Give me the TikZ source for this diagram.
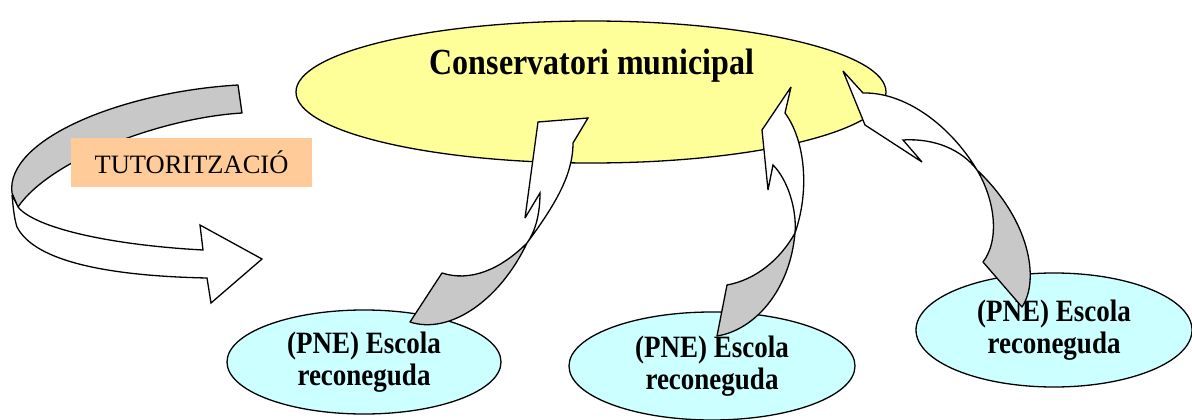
\documentclass[tikz,border=0pt]{standalone}
\usepackage{fontspec}
\setmainfont{Liberation Serif}
\usetikzlibrary{shapes.geometric}
\definecolor{topyellow}{HTML}{FFFF99}
\definecolor{schoolcyan}{HTML}{CCFFFF}
\definecolor{bandgray}{HTML}{C8C8C8}
\definecolor{peach}{HTML}{FFCC99}
\newcommand{\tallbox}[1]{\scalebox{1}[1.15]{#1}}
\tikzset{
  conserv/.style={ellipse, draw, line width=1.3pt, fill=topyellow, inner sep=0pt},
  school/.style={ellipse, draw, line width=1.3pt, fill=schoolcyan, inner sep=0pt, align=center,
    font=\bfseries\fontsize{27}{32}\selectfont},
  bandback/.style={draw, line width=1.3pt, fill=bandgray, line join=round},
  bandfront/.style={draw, line width=1.3pt, fill=white, line join=miter, miter limit=4},
  tutorbox/.style={fill=peach, inner sep=0pt, font=\fontsize{26.5}{30}\selectfont}
}
\begin{document}
\begin{tikzpicture}[x=1pt,y=-1pt]
\useasboundingbox (0,0) rectangle (1192,420);

% ellipses
\node[conserv, minimum width=590pt, minimum height=142pt] (conservatori) at (591,92) {};
\node[font=\bfseries\fontsize{32}{38}\selectfont] (conservtext) at (592,66) {\tallbox{Conservatori municipal}};
\node[school, minimum width=274pt, minimum height=104pt] (escolaA) at (364,362) {\tallbox{(PNE) Escola}\\\tallbox{reconeguda}};
\node[school, minimum width=286pt, minimum height=108pt] (escolaB) at (712,366) {\tallbox{(PNE) Escola}\\\tallbox{reconeguda}};
\node[school, minimum width=276pt, minimum height=114pt] (escolaC) at (1054,330) {\tallbox{(PNE) Escola}\\\tallbox{reconeguda}};

% left tutoring arrow
\path[bandback] (238,85) -- (242,113)
  .. controls (160,118) and (50,160) .. (18,207)
  -- (12,193)
  .. controls (5,140) and (120,92) .. (238,85) -- cycle;
\path[bandfront] (12,195) .. controls (13,205) and (14,218) .. (17,227)
  .. controls (35,262) and (110,276) .. (207,278)
  -- (211,303) -- (262,259) -- (200,225) -- (203,250)
  .. controls (110,245) and (35,228) .. (18,207) -- cycle;

% arrow 1 (escola A -> conservatori)
\path[bandback] (527,243) .. controls (500,270) and (470,282) .. (442,273)
  -- (410,322) .. controls (450,335) and (500,300) .. (527,243) -- cycle;
\path[bandfront] (527,243) .. controls (555,205) and (573,175) .. (573,143)
  -- (588,118) -- (538,122) -- (525,218) -- (540,193)
  .. controls (540,215) and (535,232) .. (527,243) -- cycle;

% arrow 2 (escola B -> conservatori)
\path[bandback] (795,233) .. controls (780,260) and (755,280) .. (727,285)
  -- (717,336) .. controls (755,330) and (790,290) .. (795,233) -- cycle;
\path[bandfront] (795,233) .. controls (810,190) and (805,140) .. (785,113)
  -- (791,87) -- (762,130) -- (768,190) -- (773,165)
  .. controls (788,180) and (797,210) .. (795,233) -- cycle;

% arrow 3 (escola C -> conservatori)
\path[bandback] (977,170) .. controls (995,200) and (1000,240) .. (983,262)
  -- (1022,307) .. controls (1040,280) and (1030,220) .. (977,170) -- cycle;
\path[bandfront] (977,170) .. controls (950,125) and (905,92) .. (863,93)
  -- (843,71) -- (865,125) -- (922,162) -- (903,140)
  .. controls (935,138) and (962,150) .. (977,170) -- cycle;

% tutoring label
\node[tutorbox, minimum width=241pt, minimum height=49pt] (tutor) at (191.5,162.5) {TUTORITZACIÓ};
\end{tikzpicture}
\end{document}
